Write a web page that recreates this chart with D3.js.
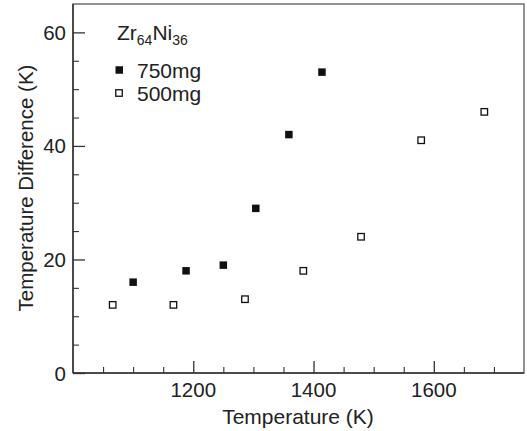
<!DOCTYPE html>
<html>
<head>
<meta charset="utf-8">
<script src="https://cdn.jsdelivr.net/npm/d3@7"></script>
<style>
  html, body { margin: 0; padding: 0; background: #fff; }
  svg { display: block; font-family: "Liberation Sans", Arial, Helvetica, sans-serif; }
</style>
</head>
<body>
<svg id="chart" width="527" height="431"></svg>
<script>
// Undercooling temperature difference vs. temperature for two sample masses
const temp750 = [1100, 1188, 1250, 1304, 1359, 1414];
const diff750 = [16, 18, 19, 29, 42, 53];
const temp500 = [1066, 1167, 1286, 1383, 1479, 1579, 1684];
const diff500 = [12, 12, 13, 18, 24, 41, 46];

const xTickMajor = [1200, 1400, 1600];
const xTickMinor = [1050, 1100, 1150, 1250, 1300, 1350, 1450, 1500, 1550, 1650, 1700];
const yTickMajor = [0, 20, 40, 60];
const yTickMinor = [5, 10, 15, 25, 30, 35, 45, 50, 55];

const legendLabels = ["750mg", "500mg"];

const svg = d3.select("#chart");
const m = { left: 73, right: 3, top: 4, bottom: 58 };
const W = 527, H = 431;
const x = d3.scaleLinear().domain([1000, 1750]).range([m.left, W - m.right]);
const y = d3.scaleLinear().domain([0, 65]).range([H - m.bottom, m.top]);

const axisColor = "#333";
const textColor = "#222";

// frame
svg.append("rect")
  .attr("x", m.left).attr("y", m.top)
  .attr("width", W - m.right - m.left).attr("height", H - m.bottom - m.top)
  .attr("fill", "none").attr("stroke", "#666").attr("stroke-width", 1.4);

// ticks pointing into the plot
svg.append("g").attr("transform", `translate(0,${H - m.bottom})`)
  .call(d3.axisTop(x).tickValues(xTickMajor).tickSize(12).tickFormat(""))
  .call(g => g.select(".domain").remove())
  .call(g => g.selectAll(".tick line").attr("stroke", axisColor).attr("stroke-width", 1.3));
svg.append("g").attr("transform", `translate(0,${H - m.bottom})`)
  .call(d3.axisTop(x).tickValues(xTickMinor).tickSize(6).tickFormat(""))
  .call(g => g.select(".domain").remove())
  .call(g => g.selectAll(".tick line").attr("stroke", axisColor).attr("stroke-width", 1.1));

svg.append("g").attr("transform", `translate(${m.left},0)`)
  .call(d3.axisRight(y).tickValues(yTickMajor).tickSize(12).tickFormat(""))
  .call(g => g.select(".domain").remove())
  .call(g => g.selectAll(".tick line").attr("stroke", axisColor).attr("stroke-width", 1.3));
svg.append("g").attr("transform", `translate(${m.left},0)`)
  .call(d3.axisRight(y).tickValues(yTickMinor).tickSize(6).tickFormat(""))
  .call(g => g.select(".domain").remove())
  .call(g => g.selectAll(".tick line").attr("stroke", axisColor).attr("stroke-width", 1.1));

// tick labels
svg.append("g").selectAll("text").data(xTickMajor).join("text")
  .attr("x", d => x(d)).attr("y", H - m.bottom + 24)
  .attr("text-anchor", "middle").attr("font-size", 20.5).attr("fill", textColor)
  .text(d => d);
svg.append("g").selectAll("text").data(yTickMajor).join("text")
  .attr("x", m.left - 7).attr("y", d => y(d) + 7.5)
  .attr("text-anchor", "end").attr("font-size", 20.5).attr("fill", textColor)
  .text(d => d);

// left and bottom axis lines drawn darker
svg.append("line").attr("x1", m.left).attr("x2", m.left)
  .attr("y1", m.top).attr("y2", H - m.bottom)
  .attr("stroke", axisColor).attr("stroke-width", 1.5);
svg.append("line").attr("x1", m.left).attr("x2", W - m.right)
  .attr("y1", H - m.bottom).attr("y2", H - m.bottom)
  .attr("stroke", axisColor).attr("stroke-width", 1.5);

// axis titles
svg.append("text")
  .attr("x", 298).attr("y", 424)
  .attr("text-anchor", "middle").attr("font-size", 21).attr("fill", textColor)
  .text("Temperature (K)");
svg.append("text")
  .attr("transform", "translate(33,188) rotate(-90)")
  .attr("text-anchor", "middle").attr("font-size", 20.5).attr("fill", textColor)
  .text("Temperature Difference (K)");

// data markers
const s = 7.5;
svg.append("g").selectAll("rect").data(temp750.map((t, i) => [t, diff750[i]])).join("rect")
  .attr("x", d => x(d[0]) - s / 2).attr("y", d => y(d[1]) - s / 2)
  .attr("width", s).attr("height", s).attr("fill", "#111");
const so = 6.5;
svg.append("g").selectAll("rect").data(temp500.map((t, i) => [t, diff500[i]])).join("rect")
  .attr("x", d => x(d[0]) - so / 2).attr("y", d => y(d[1]) - so / 2)
  .attr("width", so).attr("height", so).attr("fill", "#fff")
  .attr("stroke", "#111").attr("stroke-width", 1.3);

// composition label
const title = svg.append("text").attr("x", 117).attr("y", 40)
  .attr("font-size", 21).attr("fill", textColor);
title.append("tspan").text("Zr");
title.append("tspan").attr("font-size", 14).attr("dy", 5).text("64");
title.append("tspan").attr("dy", -5).text("Ni");
title.append("tspan").attr("font-size", 14).attr("dy", 5).text("36");

// legend
const leg = svg.append("g");
legendLabels.forEach((lab, i) => {
  const cy = 70 + i * 23;
  if (i === 0) {
    leg.append("rect").attr("x", 115.5).attr("y", cy - 3.75).attr("width", 7.5).attr("height", 7.5).attr("fill", "#111");
  } else {
    leg.append("rect").attr("x", 115.75).attr("y", cy - 3.25).attr("width", 6.5).attr("height", 6.5)
      .attr("fill", "#fff").attr("stroke", "#111").attr("stroke-width", 1.3);
  }
  leg.append("text").attr("x", 137).attr("y", cy + 7.5)
    .attr("font-size", 21).attr("fill", textColor).text(lab);
});
</script>
</body>
</html>
